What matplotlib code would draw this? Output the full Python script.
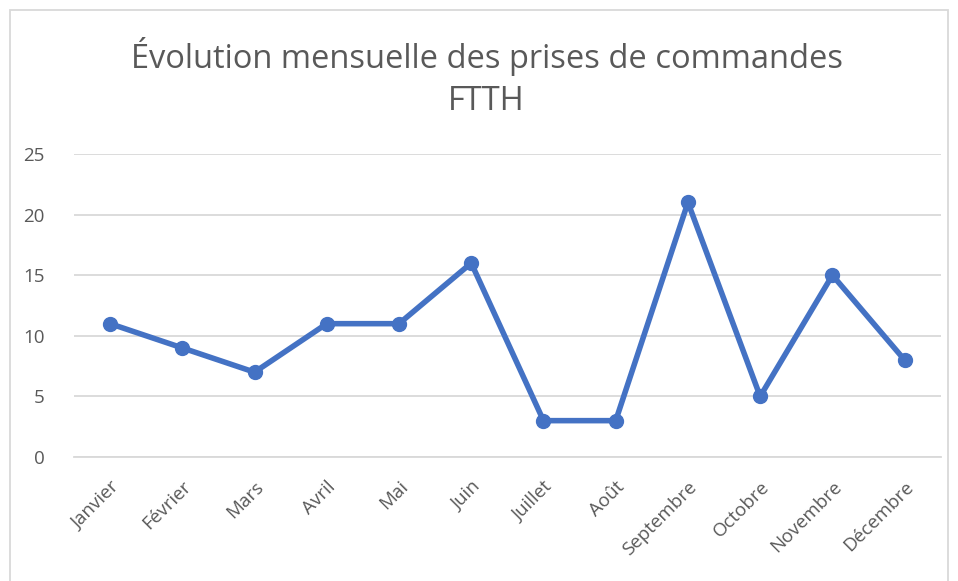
import numpy as np
import matplotlib.pyplot as plt
from matplotlib.patches import Rectangle

plt.rcParams['font.family'] = ['Open Sans', 'DejaVu Sans']

# data
mois = ['Janvier', 'Février', 'Mars', 'Avril', 'Mai', 'Juin', 'Juillet',
        'Août', 'Septembre', 'Octobre', 'Novembre', 'Décembre']
commandes = [11, 9, 7, 11, 11, 16, 3, 3, 21, 5, 15, 8]
yticks = [0, 5, 10, 15, 20, 25]

fig = plt.figure(figsize=(9.58, 5.81), dpi=100)
ax = fig.add_axes([0.0772, 0.2134, 0.9048, 0.5216])

x = np.arange(len(mois))
ax.plot(x, commandes, color='#4472C4', linewidth=4, marker='o', markersize=10,
        solid_capstyle='round', solid_joinstyle='round', zorder=3)

ax.set_xlim(-0.5, len(mois) - 0.5)
ax.set_ylim(0, 25)
ax.set_yticks(yticks)
ax.set_xticks(x)
ax.set_xticklabels(mois, rotation=45, ha='right', rotation_mode='anchor')
ax.grid(axis='y', color='#D9D9D9', linewidth=1.3)
ax.set_axisbelow(True)
for s in ['top', 'right', 'left']:
    ax.spines[s].set_visible(False)
ax.spines['bottom'].set_color('#D9D9D9')
ax.spines['bottom'].set_linewidth(1.3)
ax.tick_params(axis='both', length=0, colors='#595959', labelsize=13.5)
ax.tick_params(axis='y', pad=21)
ax.tick_params(axis='x', pad=15)

fig.text(0.508, 0.866, 'Évolution mensuelle des prises de commandes\nFTTH',
         ha='center', va='center', fontsize=23.5, color='#595959', linespacing=1.35)

# chart border
fig.patches.append(Rectangle((10 / 958, -0.01), 938 / 958, 0.993,
                             transform=fig.transFigure, fill=False,
                             edgecolor='#D9D9D9', linewidth=1.3))

plt.savefig('out.png')
